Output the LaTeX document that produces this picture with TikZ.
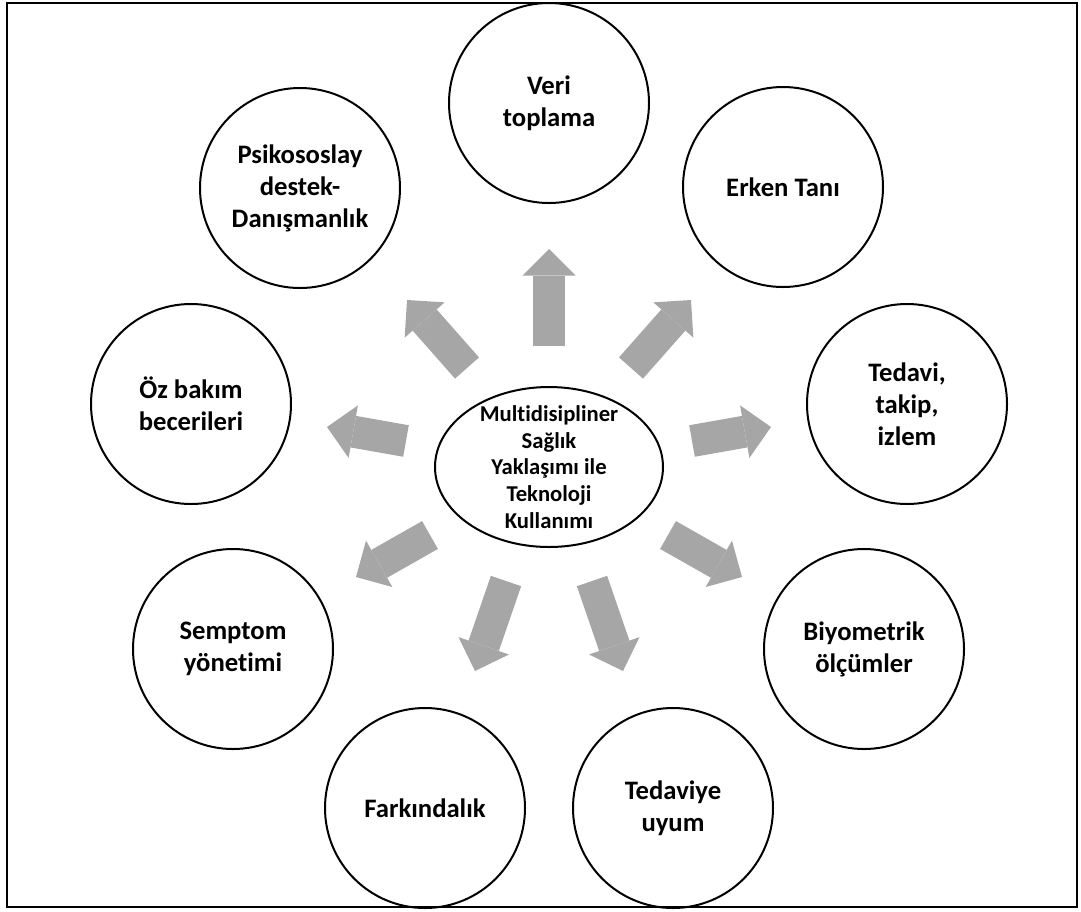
\documentclass[tikz,border=0pt]{standalone}
\usepackage{fontspec}
\setmainfont{Carlito}[Ligatures=NoCommon]
\usetikzlibrary{arrows.meta}
\definecolor{arrowgray}{RGB}{166,166,166}
\tikzset{
	bubble/.style={circle,draw=black,line width=1.5pt,minimum size=150pt,inner sep=0pt,align=center,font=\fontsize{20}{24}\selectfont\bfseries},
	hubtext/.style={inner sep=0pt,align=center,font=\fontsize{17}{20}\selectfont\bfseries},
	blockarrow/.style={draw=arrowgray,line width=24pt,-{Triangle[length=20pt,width=40pt,line width=0pt]}}
}
\begin{document}
\begin{tikzpicture}[x=0.75pt,y=-0.75pt]
		\useasboundingbox (0,0) rectangle (1081,911);
		\draw[line width=2pt] (7,3) rectangle (1077,907);
		\node at (549,103) [bubble] (veri) {Veri\\toplama};
		\node at (783,187) [bubble] (erken) {Erken Tanı};
		\node at (907,404) [bubble] (tedavi) {Tedavi,\\takip,\\izlem};
		\node at (864,649) [bubble] (biyo) {Biyometrik\\ölçümler};
		\node at (673,808) [bubble] (uyum) {Tedaviye\\uyum};
		\node at (425,808) [bubble] (fark) {Farkındalık};
		\node at (233,649) [bubble] (semptom) {Semptom\\yönetimi};
		\node at (191,404) [bubble] (ozbakim) {Öz bakım\\becerileri};
		\node at (300,188) [bubble] (psiko) {Psikososlay\\destek-\\Danışmanlık};
		\coordinate (mid) at (549,467);
		\draw[line width=1.5pt] (mid) ellipse [x radius=114, y radius=80];
		\node at (mid) [hubtext] (hub) {Multidisipliner\\Sağlık\\Yaklaşımı ile\\Teknoloji\\Kullanımı};
		\coordinate (t1) at (549,346); \coordinate (h1) at (549,249);
		\coordinate (t2) at (631,368); \coordinate (h2) at (691,300);
		\coordinate (t3) at (692,441); \coordinate (h3) at (771,427);
		\coordinate (t4) at (668,535); \coordinate (h4) at (742,577);
		\coordinate (t5) at (592,581); \coordinate (h5) at (623,671);
		\coordinate (t6) at (506,581); \coordinate (h6) at (475,671);
		\coordinate (t7) at (430,535); \coordinate (h7) at (356,577);
		\coordinate (t8) at (406,441); \coordinate (h8) at (327,427);
		\coordinate (t9) at (467,368); \coordinate (h9) at (407,300);
		\draw[blockarrow] (t1) -- (h1);
		\draw[blockarrow] (t2) -- (h2);
		\draw[blockarrow] (t3) -- (h3);
		\draw[blockarrow] (t4) -- (h4);
		\draw[blockarrow] (t5) -- (h5);
		\draw[blockarrow] (t6) -- (h6);
		\draw[blockarrow] (t7) -- (h7);
		\draw[blockarrow] (t8) -- (h8);
		\draw[blockarrow] (t9) -- (h9);
\end{tikzpicture}
\end{document}
